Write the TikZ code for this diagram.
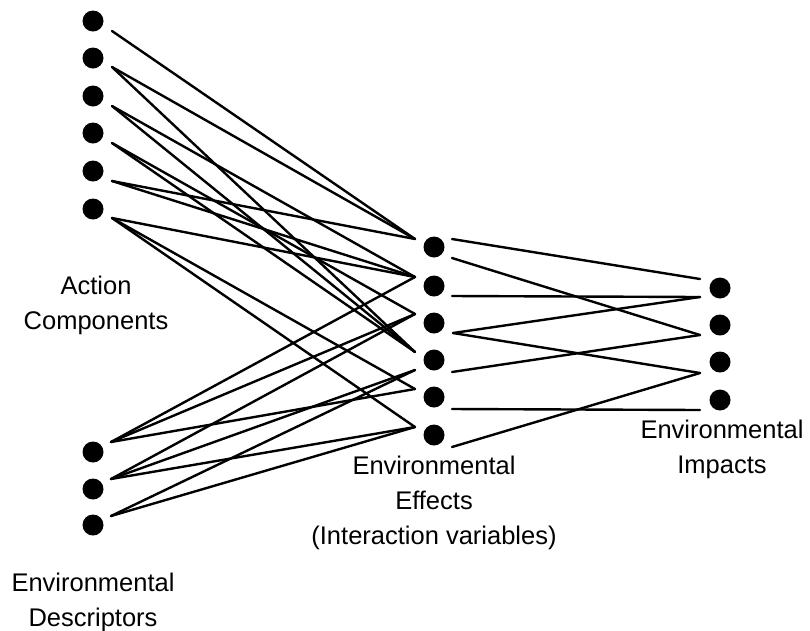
\documentclass[tikz,border=0pt]{standalone}
\usepackage{fontspec}
\setmainfont{Liberation Sans}
\begin{document}
\begin{tikzpicture}[x=1pt,y=-1pt,
  dot/.style={circle,fill=black,inner sep=0pt,minimum size=21pt},
  link/.style={line width=2.4pt,black,line cap=round},
  lbl/.style={align=center,font=\fontsize{25.5}{35}\selectfont}]
\useasboundingbox (0,0) rectangle (810,630);
% dots
\foreach \n/\y in {1/21,2/58,3/96,4/133,5/171,6/209}{\node[dot] (a\n) at (93,\y) {};}
\foreach \n/\y in {1/452,2/489,3/525}{\node[dot] (d\n) at (93,\y) {};}
\foreach \n/\y in {1/247,2/286,3/323,4/360,5/397,6/435}{\node[dot] (e\n) at (434,\y) {};}
\foreach \n/\y in {1/288,2/325,3/362,4/400}{\node[dot] (i\n) at (720,\y) {};}
% line end points
\foreach \n/\y in {1/31,2/67,3/106,4/143,5/181,6/218}{\coordinate (as\n) at (112,\y);}
\foreach \n/\y in {1/442,2/479,3/516}{\coordinate (ds\n) at (111,\y);}
\foreach \n/\y in {1/239,2/277,3/314,4/352,5/389,6/427}{\coordinate (el\n) at (415,\y);}
\coordinate (el4b) at (415,370);
\coordinate (er1a) at (452,239);
\coordinate (er1b) at (452,258);
\coordinate (er2) at (452,296);
\coordinate (er3) at (453,333);
\coordinate (er4) at (452,372);
\coordinate (er5) at (452,409);
\coordinate (er6) at (452,447);
\coordinate (il1a) at (700,279);
\coordinate (il1b) at (700,297);
\coordinate (il2) at (700,335);
\coordinate (il3) at (700,373);
\coordinate (il4) at (700,410);
% action -> effects
\draw[link] (as1) -- (el1);
\draw[link] (as2) -- (el1);
\draw[link] (as2) -- (el4);
\draw[link] (as3) -- (el2);
\draw[link] (as3) -- (el4);
\draw[link] (as4) -- (el3);
\draw[link] (as4) -- (el4);
\draw[link] (as5) -- (el1);
\draw[link] (as5) -- (el2);
\draw[link] (as6) -- (el2);
\draw[link] (as6) -- (el5);
\draw[link] (as6) -- (el6);
% descriptors -> effects
\draw[link] (ds1) -- (el2);
\draw[link] (ds1) -- (el3);
\draw[link] (ds1) -- (el5);
\draw[link] (ds2) -- (el3);
\draw[link] (ds2) -- (el4b);
\draw[link] (ds2) -- (el6);
\draw[link] (ds3) -- (el4b);
\draw[link] (ds3) -- (el6);
% effects -> impacts
\draw[link] (er1a) -- (il1a);
\draw[link] (er1b) -- (il2);
\draw[link] (er2) -- (il1b);
\draw[link] (er3) -- (il1b);
\draw[link] (er3) -- (il3);
\draw[link] (er4) -- (il2);
\draw[link] (er5) -- (il4);
\draw[link] (er6) -- (il3);
% labels
\node[lbl] (lac) at (96,305) {Action\\Components};
\node[lbl] (led) at (93,602) {Environmental\\Descriptors};
\node[lbl] (lee) at (434,503) {Environmental\\Effects\\(Interaction variables)};
\node[lbl] (lei) at (722,449) {Environmental\\Impacts};
\end{tikzpicture}
\end{document}
